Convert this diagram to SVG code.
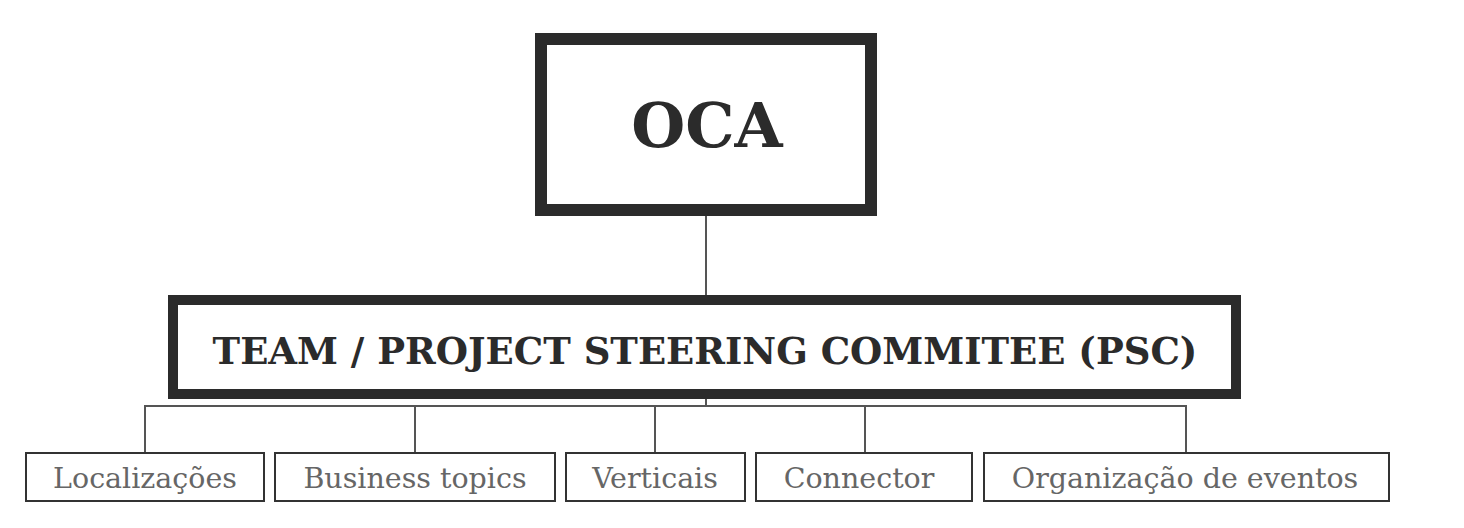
<svg xmlns="http://www.w3.org/2000/svg" width="1464" height="528" viewBox="0 0 1464 528">
<style>
.big{fill:#fff;stroke:#2b2b2b}
.small{fill:#fff;stroke:#333;stroke-width:2}
.lbl{font-family:"DejaVu Serif",serif;font-size:28.5px;fill:#666;text-anchor:middle}
.hd{font-family:"DejaVu Serif",serif;font-weight:bold;fill:#2b2b2b;text-anchor:middle}
.conn{fill:none;stroke:#555;stroke-width:2}
</style>
<rect width="1464" height="528" fill="#fff"/>
<g id="connectors">
<path class="conn" d="M706 216V295"/>
<path class="conn" d="M706 399V406M145 452V406H1186V452M415 406V452M655 406V452M865 406V452"/>
</g>
<g id="oca">
<rect class="big" x="541" y="39" width="330" height="171" stroke-width="12"/>
<text class="hd" x="707" y="147" font-size="62">OCA</text>
</g>
<g id="psc">
<rect class="big" x="173" y="300" width="1063" height="94" stroke-width="10"/>
<text class="hd" x="705" y="364" font-size="37">TEAM / PROJECT STEERING COMMITEE (PSC)</text>
</g>
<g id="n1">
<rect class="small" x="26" y="453" width="238" height="48"/>
<text class="lbl" x="145" y="488">Localizações</text>
</g>
<g id="n2">
<rect class="small" x="275" y="453" width="280" height="48"/>
<text class="lbl" x="415" y="488">Business topics</text>
</g>
<g id="n3">
<rect class="small" x="566" y="453" width="179" height="48"/>
<text class="lbl" x="655" y="488">Verticais</text>
</g>
<g id="n4">
<rect class="small" x="756" y="453" width="216" height="48"/>
<text class="lbl" x="859" y="488">Connector</text>
</g>
<g id="n5">
<rect class="small" x="984" y="453" width="405" height="48"/>
<text class="lbl" x="1185" y="488">Organização de eventos</text>
</g>
</svg>
